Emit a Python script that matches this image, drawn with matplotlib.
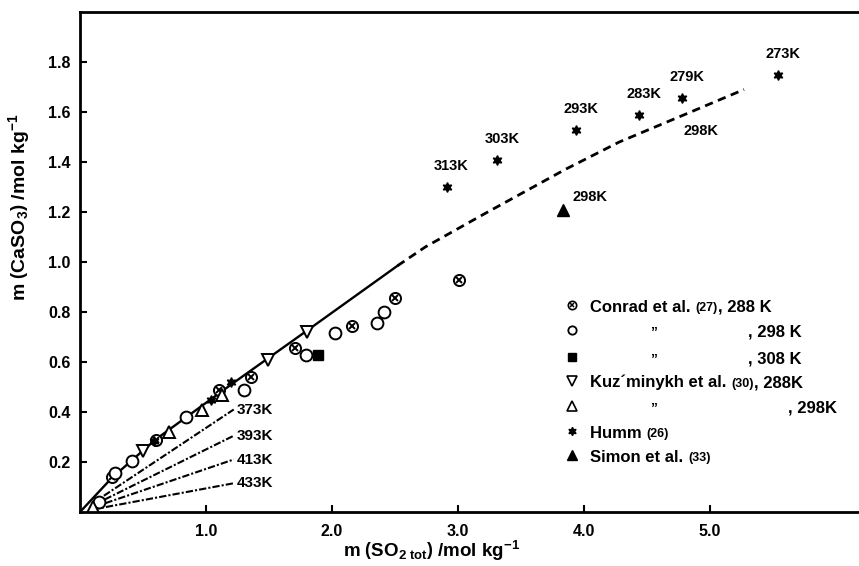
import matplotlib
matplotlib.use("Agg")
import matplotlib.pyplot as plt
import numpy as np

plt.rcParams['font.family'] = ['Liberation Sans', 'DejaVu Sans']
plt.rcParams['font.weight'] = 'bold'
plt.rcParams['mathtext.fontset'] = 'custom'
plt.rcParams['mathtext.rm'] = 'Liberation Sans:bold'
plt.rcParams['mathtext.it'] = 'Liberation Sans:bold'
plt.rcParams['mathtext.bf'] = 'Liberation Sans:bold'
plt.rcParams['mathtext.default'] = 'rm'

# data (mol/kg)
conrad288_x = [0.25, 0.60, 1.10, 1.36, 1.71, 2.16, 2.50, 3.01]
conrad288_y = [0.14, 0.29, 0.49, 0.54, 0.656, 0.745, 0.856, 0.93]
conrad298_x = [0.15, 0.28, 0.41, 0.84, 1.30, 1.79, 2.02, 2.36, 2.41]
conrad298_y = [0.04, 0.155, 0.204, 0.38, 0.49, 0.63, 0.716, 0.756, 0.80]
conrad308_x = [1.89]
conrad308_y = [0.63]
kuz288_x = [0.50, 1.49, 1.80]
kuz288_y = [0.245, 0.61, 0.72]
kuz298_x = [0.10, 0.71, 0.97, 1.13]
kuz298_y = [0.02, 0.32, 0.41, 0.47]
humm_x = [0.59, 1.04, 1.20, 2.91, 3.31, 3.94, 4.44, 4.78, 5.54]
humm_y = [0.285, 0.45, 0.52, 1.30, 1.41, 1.53, 1.59, 1.656, 1.75]
humm_labels = ['', '', '', '313K', '303K', '293K', '283K', '279K', '273K']
simon_x = [3.83]
simon_y = [1.21]

# 298 K curve: solid (measured range) and dashed (extrapolated)
solid_x = [0.0, 0.25, 0.6, 1.2, 1.8, 2.52]
solid_y = [0.0, 0.135, 0.29, 0.51, 0.725, 0.985]
dashed_x = [2.52, 2.74, 3.2, 3.85, 4.28, 4.8, 5.27]
dashed_y = [0.985, 1.06, 1.19, 1.37, 1.48, 1.59, 1.69]

# high temperature lines
hot_labels = ['373K', '393K', '413K', '433K']
hot_x0 = [0.10, 0.10, 0.10, 0.10]
hot_y0 = [0.035, 0.026, 0.018, 0.01]
hot_x1 = [1.22, 1.22, 1.22, 1.22]
hot_y1 = [0.41, 0.305, 0.21, 0.115]

fig = plt.figure(figsize=(8.59, 5.66), dpi=100)
ax = fig.add_axes([80 / 859, 54 / 566, 779 / 859, 500 / 566])
ax.set_xlim(0, 779 / 126)
ax.set_ylim(0, 2.0)

ax.plot(solid_x, solid_y, color='black', lw=1.7)
ax.plot(dashed_x, dashed_y, color='black', lw=2.0, dashes=(3, 2))
for lab, x0, y0, x1, y1 in zip(hot_labels, hot_x0, hot_y0, hot_x1, hot_y1):
    ax.plot([x0, x1], [y0, y1], color='black', lw=1.5, dashes=(3.5, 1, 1, 1))
    ax.text(x1 + 0.025, y1, lab, fontsize=11, fontweight='bold', ha='left', va='center')

mk = dict(linestyle='none', color='black')
ax.plot(conrad288_x, conrad288_y, marker='o', ms=8, mfc='white', mec='black', mew=1.4, **mk)
ax.plot(conrad288_x, conrad288_y, marker='x', ms=4.5, mew=1.4, **mk)
ax.plot(conrad298_x, conrad298_y, marker='o', ms=8.5, mfc='white', mec='black', mew=1.4, **mk)
ax.plot(conrad308_x, conrad308_y, marker='s', ms=7.5, **mk)
ax.plot(kuz288_x, kuz288_y, marker='v', ms=8.5, mfc='white', mec='black', mew=1.4, **mk)
ax.plot(kuz298_x, kuz298_y, marker='^', ms=8.5, mfc='white', mec='black', mew=1.4, **mk)
ax.plot(humm_x, humm_y, marker=(6, 1, 0), ms=7, **mk)
ax.plot(simon_x, simon_y, marker='^', ms=8, **mk)

for x, y, lab in zip(humm_x, humm_y, humm_labels):
    if lab:
        ax.annotate(lab, (x, y), xytext=(3.5, 15), textcoords='offset points',
                    ha='center', va='center', fontsize=10.5, fontweight='bold')
ax.annotate('298K', (simon_x[0], simon_y[0]), xytext=(7, 9), textcoords='offset points',
            ha='left', va='center', fontsize=10.5, fontweight='bold')
ax.text(4.93, 1.525, '298K', ha='center', va='center', fontsize=10.5, fontweight='bold')

# legend drawn by hand (ditto marks like the original)
mx, tx = 0.632, 0.655
rows = [0.414, 0.364, 0.310, 0.262, 0.212, 0.162, 0.114]
tr = ax.transAxes
ax.plot(mx, rows[0], marker='o', ms=6, mfc='white', mec='black', mew=1.2, transform=tr, **mk)
ax.plot(mx, rows[0], marker='x', ms=3.5, mew=1.1, transform=tr, **mk)
ax.plot(mx, rows[1], marker='o', ms=6, mfc='white', mec='black', mew=1.3, transform=tr, **mk)
ax.plot(mx, rows[2], marker='s', ms=6, transform=tr, **mk)
ax.plot(mx, rows[3], marker='v', ms=6.5, mfc='white', mec='black', mew=1.2, transform=tr, **mk)
ax.plot(mx, rows[4], marker='^', ms=6.5, mfc='white', mec='black', mew=1.2, transform=tr, **mk)
ax.plot(mx, rows[5], marker=(6, 1, 0), ms=6, transform=tr, **mk)
ax.plot(mx, rows[6], marker='^', ms=6.5, transform=tr, **mk)


def entry(y, parts):
    t = ax.text(tx, y, parts[0][0], fontsize=parts[0][1], fontweight='bold',
                transform=tr, ha='left', va='baseline')
    for s, fs in parts[1:]:
        t = ax.annotate(s, xy=(1, 0), xycoords=t, xytext=(0, 0), textcoords='offset points',
                        fontsize=fs, fontweight='bold', ha='left', va='bottom')


base = -0.013
entry(rows[0] + base, [('Conrad et al. ', 12), ('(27)', 9), (', 288 K', 12)])
entry(rows[3] + base, [('Kuz\u00b4minykh et al. ', 12), ('(30)', 9), (', 288K', 12)])
entry(rows[5] + base, [('Humm ', 12), ('(26)', 9)])
entry(rows[6] + base, [('Simon et al. ', 12), ('(33)', 9)])
for r in (rows[1], rows[2], rows[4]):
    ax.text(0.736, r + base, '\u201d', fontsize=10, fontweight='bold', transform=tr, ha='center', va='baseline')
for r in (rows[1], rows[2]):
    ax.text(0.926, r + base, ', 298 K' if r == rows[1] else ', 308 K', fontsize=12,
            fontweight='bold', transform=tr, ha='right', va='baseline')
ax.text(0.972, rows[4] + base, ', 298K', fontsize=12, fontweight='bold', transform=tr,
        ha='right', va='baseline')

ax.spines['right'].set_visible(False)
for s in ('left', 'bottom', 'top'):
    ax.spines[s].set_linewidth(2.0)

ax.set_xticks([1, 2, 3, 4, 5])
ax.set_xticklabels(['1.0', '2.0', '3.0', '4.0', '5.0'])
ax.set_yticks([0.2, 0.4, 0.6, 0.8, 1.0, 1.2, 1.4, 1.6, 1.8])
ax.set_yticklabels(['0.2', '0.4', '0.6', '0.8', '1.0', '1.2', '1.4', '1.6', '1.8'])
ax.tick_params(direction='in', length=5, width=1.5, labelsize=11.5, pad=7)
ax.tick_params(axis='x', pad=9)
for lab in ax.get_xticklabels() + ax.get_yticklabels():
    lab.set_fontweight('bold')

ax.set_xlabel(r'm $\left(\mathrm{SO_{2\ tot}}\right)$ /mol kg$^{-1}$', fontsize=13.5, fontweight='bold')
ax.xaxis.set_label_coords(352 / 779, -27 / 500)
ax.set_ylabel(r'm $\left(\mathrm{CaSO_{3}}\right)$ /mol kg$^{-1}$', fontsize=14, fontweight='bold')
ax.yaxis.set_label_coords(-48 / 779, 305 / 500)

fig.savefig('out.png', dpi=100)
